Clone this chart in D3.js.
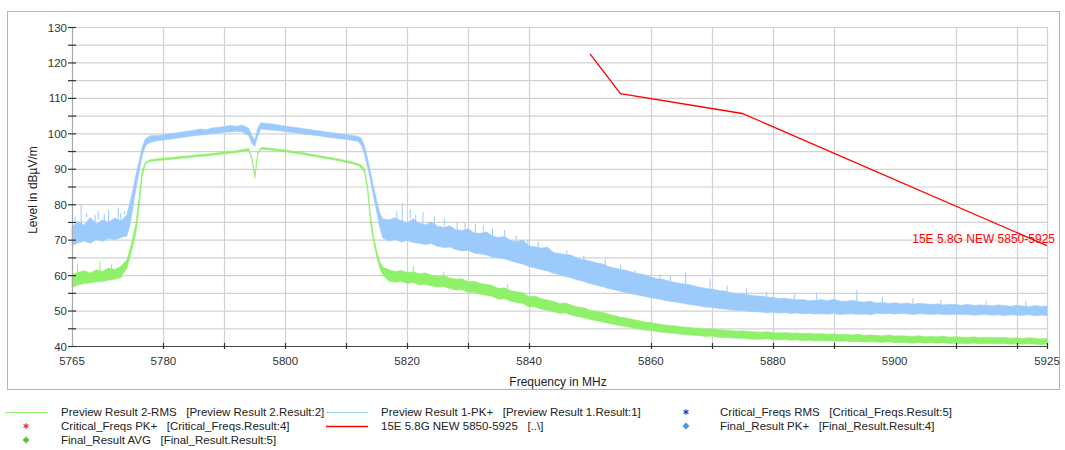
<!DOCTYPE html>
<html>
<head>
<meta charset="utf-8">
<script src="https://cdn.jsdelivr.net/npm/d3@7"></script>
<style>
  body { margin: 0; background: #fff; }
  svg { font-family: "Liberation Sans", Arial, sans-serif; }
  .lbl { white-space: pre; }
</style>
</head>
<body>
<svg id="chart" width="1065" height="450"></svg>
<script>
// frequency grid (MHz) of the two preview traces
const freqMHz = [
  5765, 5766, 5767, 5768, 5769, 5770, 5771, 5772, 5773, 5774,
  5774.5, 5775, 5775.5, 5776, 5776.5, 5777, 5777.5, 5778,
  5779, 5780, 5781, 5782, 5783, 5784, 5785, 5786, 5787, 5788, 5789, 5790, 5791, 5792, 5793, 5794,
  5794.5, 5795, 5795.5,
  5796, 5797, 5798, 5799, 5800, 5801, 5802, 5803, 5804, 5805, 5806, 5807, 5808, 5809, 5810, 5811, 5812,
  5812.5, 5813, 5813.5, 5814, 5814.5, 5815, 5815.5, 5816,
  5817, 5818, 5819, 5820, 5821, 5822, 5823, 5824, 5825, 5826,
  5827, 5828, 5829, 5830, 5831, 5832, 5833, 5834, 5835, 5836,
  5837, 5838, 5839, 5840, 5841, 5842, 5843, 5844, 5845, 5846,
  5847, 5848, 5849, 5850, 5851, 5852, 5853, 5854, 5855, 5856,
  5857, 5858, 5859, 5860, 5861, 5862, 5863, 5864, 5865, 5866,
  5867, 5868, 5869, 5870, 5871, 5872, 5873, 5874, 5875, 5876,
  5877, 5878, 5879, 5880, 5881, 5882, 5883, 5884, 5885, 5886,
  5887, 5888, 5889, 5890, 5891, 5892, 5893, 5894, 5895, 5896,
  5897, 5898, 5899, 5900, 5901, 5902, 5903, 5904, 5905, 5906,
  5907, 5908, 5909, 5910, 5911, 5912, 5913, 5914, 5915, 5916,
  5917, 5918, 5919, 5920, 5921, 5922, 5923, 5924, 5925
];

// Preview Result 1-PK+ : upper / lower edge of the noise band (dBµV/m)
const pkHigh = [
  73.6, 75.2, 74.1, 76.3, 74.4, 75.6, 74.9, 76.1, 75.3, 77.0,
  80.5, 84.0, 88.5, 92.0, 96.0, 98.3, 99.0, 99.4,
  99.4, 99.6, 99.9, 100.1, 100.4, 100.6, 100.9, 101.2, 101.0, 101.5, 101.7, 101.9, 102.2, 102.0, 102.3, 101.4,
  99.4, 98.2, 101.6,
  103.0, 102.8, 102.6, 102.3, 102.1, 101.8, 101.6, 101.3, 101.1, 100.8, 100.6, 100.3, 100.1, 99.9, 99.6, 99.4, 99.1,
  98.6, 96.5, 93.0, 89.0, 84.8, 81.0, 77.5, 75.8,
  75.6, 76.2, 75.4, 74.8, 75.9, 74.6, 74.2, 75.0, 73.8, 73.5,
  73.9, 72.8, 72.6, 73.1, 71.9, 71.8, 72.2, 71.0, 70.6, 70.9,
  69.8, 69.4, 69.9, 68.2, 68.0, 67.6, 67.9, 66.4, 66.1, 65.8,
  65.6, 64.7, 64.3, 64.0, 63.5, 63.2, 62.4, 62.0, 61.6, 61.3,
  60.8, 60.4, 60.1, 59.5, 59.0, 58.8, 58.3, 57.9, 57.6, 57.4,
  57.0, 56.6, 56.3, 56.0, 55.7, 55.5, 55.1, 54.8, 54.7, 54.4,
  54.2, 54.1, 53.8, 53.7, 53.4, 53.5, 53.2, 53.0, 53.1, 52.8,
  52.9, 53.1, 52.8, 53.2, 52.7, 52.6, 52.9, 52.5, 52.4, 52.6,
  52.1, 52.3, 52.0, 52.2, 51.9, 52.1, 51.8, 52.0, 51.9, 51.7,
  51.9, 51.6, 51.8, 51.7, 51.5, 51.8, 51.4, 51.6, 51.5, 51.3,
  51.6, 51.4, 51.2, 51.5, 51.3, 51.1, 51.4, 51.2, 51.3
];
const pkLow = [
  68.3, 69.1, 69.6, 69.0, 70.1, 69.5, 70.3, 70.0, 70.6, 71.0,
  74.0, 79.0, 84.5, 89.0, 93.5, 96.2, 97.2, 97.5,
  97.9, 98.1, 98.3, 98.6, 98.8, 99.1, 99.3, 99.5, 99.7, 99.9, 100.1, 100.3, 100.4, 100.6, 100.4, 99.3,
  97.2, 96.3, 99.3,
  101.2, 101.0, 100.9, 100.7, 100.5, 100.3, 100.1, 99.8, 99.6, 99.4, 99.2, 98.9, 98.7, 98.5, 98.3, 98.0, 97.7,
  96.5, 94.0, 90.5, 86.5, 82.0, 77.8, 73.5, 70.5,
  69.6, 70.1, 69.4, 69.8, 69.2, 69.0, 68.6, 68.9, 68.1, 67.8,
  67.9, 67.2, 66.8, 67.0, 66.2, 66.0, 65.7, 65.1, 64.8, 64.6,
  64.0, 63.5, 63.1, 62.4, 62.0, 61.5, 61.2, 60.5, 60.1, 59.6,
  59.2, 58.6, 58.2, 57.6, 57.2, 56.8, 56.2, 55.9, 55.4, 55.0,
  54.7, 54.3, 54.0, 53.6, 53.3, 53.0, 52.6, 52.4, 52.1, 51.8,
  51.6, 51.3, 51.0, 50.9, 50.6, 50.5, 50.2, 50.1, 50.0, 49.8,
  49.7, 49.6, 49.4, 49.5, 49.3, 49.4, 49.2, 49.3, 49.1, 49.2,
  49.0, 49.1, 49.0, 49.2, 48.9, 49.0, 49.1, 48.9, 49.0, 48.8,
  49.2, 49.1, 49.2, 49.0, 49.2, 49.1, 48.9, 49.1, 49.0, 48.9,
  49.0, 48.9, 48.8, 49.0, 48.8, 48.9, 48.7, 48.8, 48.9, 48.7,
  48.8, 48.6, 48.8, 48.7, 48.6, 48.8, 48.5, 48.7, 48.6
];

// Preview Result 2-RMS : upper / lower edge of the noise band (dBµV/m)
const rmsHigh = [
  60.0, 60.8, 61.2, 60.6, 61.5, 61.0, 62.0, 61.6, 62.4, 64.3,
  67.2, 70.8, 74.8, 81.8, 89.4, 91.8, 92.3, 92.6,
  92.8, 93.0, 93.1, 93.3, 93.5, 93.6, 93.8, 94.0, 94.1, 94.3, 94.5, 94.7, 94.9, 95.1, 95.4, 95.7,
  93.3, 88.1, 94.6,
  96.0, 95.9, 95.7, 95.5, 95.3, 95.0, 94.8, 94.5, 94.2, 93.9, 93.6, 93.3, 93.0, 92.7, 92.3, 91.9, 91.4,
  90.9, 90.0, 85.2, 76.5, 70.8, 66.9, 63.8, 62.3,
  61.5, 61.0, 61.3, 60.8, 60.9, 60.4, 60.6, 60.0, 59.6, 59.8,
  59.2, 58.9, 59.0, 58.1, 58.3, 57.6, 57.4, 57.1, 56.2, 56.4,
  55.6, 55.3, 55.0, 53.9, 54.1, 53.3, 53.0, 52.6, 52.0, 52.1,
  51.5, 51.0, 50.8, 50.1, 49.7, 49.5, 49.0, 48.6, 48.1, 47.9,
  47.5, 47.2, 46.8, 46.6, 46.3, 46.0, 45.8, 45.7, 45.4, 45.3,
  45.1, 45.0, 44.8, 44.9, 44.6, 44.5, 44.4, 44.2, 44.3, 44.1,
  44.0, 43.9, 44.0, 43.8, 43.7, 43.8, 43.6, 43.7, 43.5, 43.6,
  43.4, 43.5, 43.3, 43.4, 43.2, 43.3, 43.1, 43.3, 43.0, 43.1,
  43.0, 42.9, 43.1, 42.8, 42.9, 42.8, 42.7, 42.9, 42.6, 42.7,
  42.6, 42.8, 42.5, 42.6, 42.5, 42.4, 42.6, 42.3, 42.5, 42.4,
  42.3, 42.4, 42.2, 42.3, 42.1, 42.3, 42.2, 42.0, 42.2
];
const rmsLow = [
  56.5, 57.2, 57.6, 57.8, 58.1, 58.2, 58.6, 58.8, 59.3, 62.0,
  65.0, 68.4, 72.0, 79.0, 87.6, 91.2, 91.9, 92.1,
  92.3, 92.5, 92.6, 92.8, 93.0, 93.1, 93.3, 93.5, 93.6, 93.8, 94.0, 94.2, 94.4, 94.6, 94.9, 95.2,
  92.7, 87.3, 94.1,
  95.5, 95.4, 95.2, 95.0, 94.8, 94.5, 94.3, 94.0, 93.7, 93.4, 93.1, 92.8, 92.5, 92.2, 91.8, 91.4, 90.9,
  90.1, 89.0, 83.8, 74.5, 69.2, 65.3, 61.8, 60.1,
  58.3, 58.0, 58.2, 57.7, 57.9, 57.2, 57.4, 57.0, 56.6, 56.8,
  56.2, 55.8, 55.9, 55.1, 55.2, 54.6, 54.3, 54.0, 53.2, 53.3,
  52.6, 52.3, 52.0, 51.0, 51.1, 50.4, 50.1, 49.7, 49.2, 49.3,
  48.7, 48.3, 48.0, 47.5, 47.1, 46.8, 46.4, 46.1, 45.7, 45.5,
  45.1, 44.8, 44.5, 44.4, 44.1, 43.8, 43.7, 43.5, 43.3, 43.2,
  43.0, 42.9, 42.7, 42.8, 42.5, 42.4, 42.3, 42.2, 42.2, 42.0,
  41.9, 41.9, 42.0, 41.8, 41.7, 41.8, 41.6, 41.7, 41.5, 41.6,
  41.4, 41.5, 41.4, 41.5, 41.3, 41.4, 41.2, 41.3, 41.1, 41.2,
  41.1, 41.0, 41.2, 40.9, 41.0, 40.9, 40.8, 41.0, 40.8, 40.9,
  40.8, 40.9, 40.7, 40.8, 40.7, 40.6, 40.8, 40.6, 40.7, 40.6,
  40.6, 40.7, 40.5, 40.6, 40.5, 40.6, 40.5, 40.4, 40.5
];

// single tall spikes that stick out of the bands: [MHz, dBµV/m]
const pkSpikes = [
  [5765.5, 76.5], [5766.5, 80.0], [5767.4, 77.6], [5768.8, 77.0], [5769.3, 78.0], [5770.3, 77.2],
  [5771.0, 78.5], [5772.6, 79.0], [5773.0, 77.5], [5773.6, 78.0],
  [5818.3, 78.0], [5819.2, 80.3], [5820.5, 78.5], [5821.4, 77.0], [5822.6, 77.8], [5824.5, 76.5],
  [5826.1, 76.0], [5828.2, 75.0], [5829.5, 74.8], [5831.2, 74.5], [5832.5, 74.0], [5834.0, 73.2],
  [5836.0, 72.7], [5837.9, 71.2], [5839.8, 70.0], [5841.5, 69.5], [5844.0, 66.5], [5846.2, 67.0],
  [5849.0, 65.5], [5852.5, 64.5], [5855.0, 63.0], [5857.4, 61.4], [5861.5, 60.2], [5863.2, 59.8],
  [5865.7, 60.7], [5869.7, 59.0], [5872.5, 57.0], [5875.7, 56.3], [5879.0, 55.3], [5883.6, 55.0],
  [5887.2, 55.0], [5893.8, 55.8], [5898.0, 53.8], [5903.0, 53.5], [5907.6, 53.0], [5915.0, 52.8],
  [5921.5, 52.6]
];
const rmsSpikes = [
  [5765.9, 63.3], [5769.6, 63.7], [5771.5, 63.0], [5821.0, 62.5], [5826.0, 61.0], [5836.5, 57.5]
];

// limit line 15E 5.8G NEW 5850-5925
const limitFreqs = [5850, 5855, 5875, 5925];
const limitLevels = [122.4, 111.2, 105.6, 68.3];
const limitName = "15E 5.8G NEW 5850-5925";

// axes
const xGridTicks = [5780, 5790, 5800, 5810, 5820, 5830, 5840, 5860, 5870, 5880, 5890, 5910, 5920];
const xLabelTicks = [5765, 5780, 5800, 5820, 5840, 5860, 5880, 5900, 5925];
const yTicks = [40, 45, 50, 55, 60, 65, 70, 75, 80, 85, 90, 95, 100, 105, 110, 115, 120, 125, 130];
const yLabelTicks = [40, 50, 60, 70, 80, 90, 100, 110, 120, 130];

const legendNames = [
  "Preview Result 2-RMS   [Preview Result 2.Result:2]",
  "Preview Result 1-PK+   [Preview Result 1.Result:1]",
  "Critical_Freqs RMS   [Critical_Freqs.Result:5]",
  "Critical_Freqs PK+   [Critical_Freqs.Result:4]",
  "15E 5.8G NEW 5850-5925   [..\\]",
  "Final_Result PK+   [Final_Result.Result:4]",
  "Final_Result AVG   [Final_Result.Result:5]"
];

[pkHigh, pkLow, rmsHigh, rmsLow].forEach(function (a) {
  if (a.length !== freqMHz.length) throw new Error("length mismatch " + a.length + " vs " + freqMHz.length);
});

const pkColor = "#9ccbfb";
const rmsColor = "#8ff06a";
const limitColor = "#ff0000";

const svg = d3.select("#chart");
const plotLeft = 72, plotRight = 1047, plotTop = 27, plotBottom = 346;

const x = d3.scaleLinear().domain([5765, 5925]).range([plotLeft, plotRight]);
const y = d3.scaleLinear().domain([40, 130]).range([plotBottom, plotTop]);

// outer frame
svg.append("rect")
  .attr("x", 7.5).attr("y", 11.5)
  .attr("width", 1052).attr("height", 378)
  .attr("fill", "none")
  .attr("stroke", "#b4b4b4");

// grid
let grid = svg.append("g");
grid.selectAll("line.h")
  .data(yTicks.filter(d => d > 40))
  .enter().append("line")
  .attr("x1", plotLeft).attr("x2", plotRight)
  .attr("y1", d => y(d) + 0.5).attr("y2", d => y(d) + 0.5)
  .attr("stroke", "#d2d2d2").attr("stroke-width", 1.2);
grid.selectAll("line.v")
  .data(xGridTicks.concat([5925]))
  .enter().append("line")
  .attr("x1", d => Math.round(x(d)) + 0.5).attr("x2", d => Math.round(x(d)) + 0.5)
  .attr("y1", plotTop).attr("y2", plotBottom)
  .attr("stroke", "#d2d2d2").attr("stroke-width", 1.2);

let plot = svg.append("g");

let band = function (hi, lo) {
  return d3.area()
    .x((d, i) => x(freqMHz[i]))
    .y0((d, i) => y(lo[i]))
    .y1((d, i) => y(hi[i]));
};

let drawTrace = function (hi, lo, spikes, color) {
  plot.append("path")
    .datum(hi)
    .attr("d", band(hi, lo))
    .attr("fill", color)
    .attr("stroke", color)
    .attr("stroke-width", 0.6)
    .attr("stroke-linejoin", "round");

  plot.selectAll(null)
    .data(spikes)
    .enter().append("line")
    .attr("x1", d => x(d[0])).attr("x2", d => x(d[0]))
    .attr("y1", d => y(d[1]))
    .attr("y2", function (d) {
      let i = Math.min(d3.bisectLeft(freqMHz, d[0]), freqMHz.length - 1);
      return y(hi[i]);
    })
    .attr("stroke", color)
    .attr("stroke-width", 1);
};

drawTrace(pkHigh, pkLow, pkSpikes, pkColor);
drawTrace(rmsHigh, rmsLow, rmsSpikes, rmsColor);

// limit line
plot.append("path")
  .datum(limitFreqs)
  .attr("d", d3.line().x(d => x(d)).y((d, i) => y(limitLevels[i])))
  .attr("fill", "none")
  .attr("stroke", limitColor)
  .attr("stroke-width", 1.3);

plot.append("text")
  .attr("x", x(5925) + 8)
  .attr("y", y(limitLevels[3]) - 3)
  .attr("text-anchor", "end")
  .attr("font-size", 12)
  .attr("fill", limitColor)
  .text(limitName);

// axes
let axes = svg.append("g");
axes.append("line")
  .attr("x1", plotLeft + 0.5).attr("x2", plotLeft + 0.5)
  .attr("y1", plotTop).attr("y2", plotBottom)
  .attr("stroke", "#aaaaaa").attr("stroke-width", 1.2);
axes.append("line")
  .attr("x1", plotLeft).attr("x2", plotRight)
  .attr("y1", plotBottom + 0.5).attr("y2", plotBottom + 0.5)
  .attr("stroke", "#444").attr("stroke-width", 1.2);

axes.selectAll("line.yt")
  .data(yTicks)
  .enter().append("line")
  .attr("x1", plotLeft - 4).attr("x2", plotLeft + 4)
  .attr("y1", d => y(d) + 0.5).attr("y2", d => y(d) + 0.5)
  .attr("stroke", "#333").attr("stroke-width", 1.2);

axes.selectAll("text.yl")
  .data(yLabelTicks)
  .enter().append("text")
  .attr("x", plotLeft - 5)
  .attr("y", d => y(d) + 4.5)
  .attr("text-anchor", "end")
  .attr("font-size", 11.5)
  .attr("fill", "#333")
  .text(d => d);

axes.selectAll("line.xt")
  .data(xGridTicks.concat([5925]))
  .enter().append("line")
  .attr("x1", d => Math.round(x(d)) + 0.5).attr("x2", d => Math.round(x(d)) + 0.5)
  .attr("y1", plotBottom - 3).attr("y2", plotBottom + 3)
  .attr("stroke", "#333").attr("stroke-width", 1.2);

axes.selectAll("text.xl")
  .data(xLabelTicks)
  .enter().append("text")
  .attr("x", d => x(d))
  .attr("y", plotBottom + 19)
  .attr("text-anchor", "middle")
  .attr("font-size", 11.5)
  .attr("fill", "#333")
  .text(d => d);

axes.append("text")
  .attr("x", 558).attr("y", 386)
  .attr("text-anchor", "middle")
  .attr("font-size", 12)
  .attr("fill", "#222")
  .text("Frequency in MHz");

axes.append("text")
  .attr("transform", "translate(37,190)rotate(-90)")
  .attr("text-anchor", "middle")
  .attr("font-size", 12)
  .attr("fill", "#222")
  .text("Level in dBµV/m");

// legend
const legendStyle = [
  {kind: "line", color: rmsColor},
  {kind: "line", color: pkColor},
  {kind: "star", color: "#2233dd"},
  {kind: "star", color: "#ff2222"},
  {kind: "line", color: limitColor, width: 1.6},
  {kind: "diamond", color: "#3d9be0"},
  {kind: "diamond", color: "#55c833"}
];
const colMarkX = [26, 347, 686];
const colTextX = [61, 381, 720];

let legend = svg.append("g");
legendNames.forEach(function (name, i) {
  let col = i % 3, row = Math.floor(i / 3);
  let cy = 415 + row * 14;
  let st = legendStyle[i];
  if (st.kind === "line") {
    legend.append("line")
      .attr("x1", colMarkX[col] - 21).attr("x2", colMarkX[col] + 21)
      .attr("y1", cy - 2.5).attr("y2", cy - 2.5)
      .attr("stroke", st.color)
      .attr("stroke-width", st.width || 1.2);
  } else if (st.kind === "star") {
    legend.append("path")
      .attr("transform", "translate(" + colMarkX[col] + "," + (cy - 3) + ")")
      .attr("d", d3.symbol(d3.symbolAsterisk, 22)())
      .attr("fill", "none")
      .attr("stroke", st.color)
      .attr("stroke-width", 1.1);
  } else {
    legend.append("path")
      .attr("transform", "translate(" + colMarkX[col] + "," + (cy - 3) + ")rotate(45)")
      .attr("d", d3.symbol(d3.symbolSquare, 24)())
      .attr("fill", st.color);
  }
  legend.append("text")
    .attr("class", "lbl")
    .attr("x", colTextX[col])
    .attr("y", cy + 1)
    .attr("font-size", 11.5)
    .attr("fill", "#222")
    .text(name);
});
</script>
</body>
</html>
